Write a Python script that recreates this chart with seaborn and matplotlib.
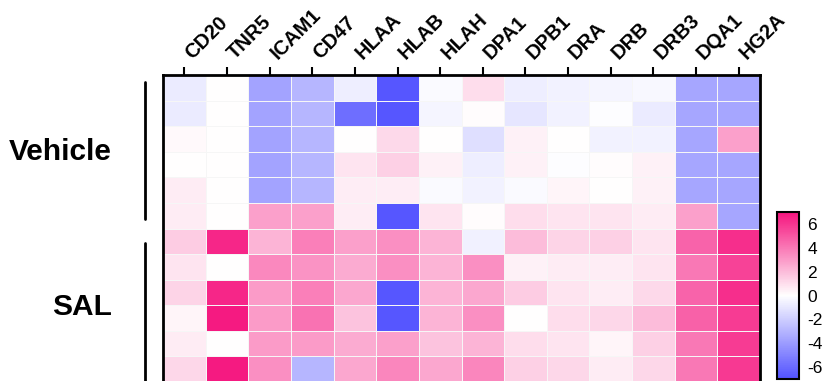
import numpy as np
import pandas as pd
import seaborn as sns
import matplotlib.pyplot as plt
import matplotlib.transforms as mtransforms
from matplotlib.colors import LinearSegmentedColormap
from matplotlib.lines import Line2D

# Data
genes = ["CD20", "TNR5", "ICAM1", "CD47", "HLAA", "HLAB", "HLAH",
         "DPA1", "DPB1", "DRA", "DRB", "DRB3", "DQA1", "HG2A"]
groups = ["Vehicle", "SAL"]

vehicle = [
    [-0.8, 0, -3.7, -2.9, -0.7, -6.8, -0.2, 1.0, -0.7, -0.5, -0.4, -0.3, -3.6, -3.6],
    [-0.8, 0, -3.7, -2.9, -5.8, -6.8, -0.4, 0.1, -1.0, -0.5, -0.1, -0.8, -3.6, -3.6],
    [0.2, 0, -3.7, -2.9, 0.0, 1.1, 0.0, -1.3, 0.4, 0.0, -0.5, -0.5, -3.6, 2.8],
    [0.0, 0, -3.7, -2.9, 0.8, 1.4, 0.4, -0.7, 0.4, -0.1, 0.1, 0.4, -3.6, -3.6],
    [0.6, 0, -3.7, -2.9, 0.5, 0.5, -0.2, -0.5, -0.2, 0.3, 0.0, 0.4, -3.6, -3.6],
    [0.6, 0, 2.8, 2.8, 0.5, -6.8, 0.8, 0.1, 1.0, 0.8, 0.8, 0.6, 2.8, -3.6],
]
sal = [
    [1.5, 6.4, 2.2, 3.8, 2.8, 3.3, 2.2, -0.6, 2.0, 1.3, 1.4, 0.8, 4.6, 6.2],
    [0.8, 0, 3.5, 3.2, 2.5, 3.3, 2.2, 3.3, 0.4, 0.6, 0.5, 0.8, 4.0, 5.6],
    [1.3, 6.4, 3.0, 3.8, 2.6, -6.8, 2.2, 2.6, 1.5, 0.8, 0.5, 1.1, 4.6, 6.2],
    [0.3, 6.8, 3.0, 4.2, 1.8, -6.8, 2.2, 3.3, 0.0, 1.0, 1.2, 2.0, 4.7, 5.8],
    [0.6, 0, 3.0, 3.0, 2.5, 2.8, 1.8, 2.2, 1.0, 0.8, 0.3, 1.4, 4.0, 5.8],
    [1.2, 6.8, 3.3, -2.9, 2.6, 3.6, 2.6, 3.6, 1.4, 1.2, 0.6, 1.2, 4.0, 5.9],
]
cbar_ticks = [-6, -4, -2, 0, 2, 4, 6]

sns.set_style("white")
plt.rcParams["font.family"] = ["Liberation Sans", "DejaVu Sans"]
plt.rcParams.update({"text.color": "black", "xtick.color": "black",
                     "ytick.color": "black", "axes.labelcolor": "black",
                     "axes.unicode_minus": False})

W, H = 827, 381
fig = plt.figure(figsize=(W / 100, H / 100), dpi=100)


def fx(px):
    return px / W


def fy(py):
    return 1 - py / H


data = pd.DataFrame(vehicle + sal, columns=genes)

cmap = LinearSegmentedColormap.from_list("bwp", ["#5252FF", "#FFFFFF", "#F5147E"])

# heatmap axes: left 163, right 760, top 75, bottom 382 (pixels)
ax = fig.add_axes([fx(163), fy(382), fx(760 - 163), (382 - 75) / H])
cax = fig.add_axes([fx(777), fy(379), fx(22), (379 - 212) / H])

sns.heatmap(data, ax=ax, cmap=cmap, vmin=-7, vmax=7, cbar_ax=cax,
            linewidths=0.4, linecolor="#f6f6f6",
            cbar_kws={"ticks": cbar_ticks})

ax.xaxis.tick_top()
ax.tick_params(axis="x", top=True, length=6, width=1.5, pad=5, color="black")
ax.set_xticklabels(genes, rotation=45, ha="left", va="baseline",
                   rotation_mode="anchor", fontsize=14.5, fontweight="bold")
shift = mtransforms.ScaledTranslation(8 / 100, 0, fig.dpi_scale_trans)
for lbl in ax.get_xticklabels():
    lbl.set_transform(lbl.get_transform() + shift)
ax.set_yticks([])
ax.set_ylabel("")
for sp in ax.spines.values():
    sp.set_visible(True)
    sp.set_linewidth(2)
    sp.set_color("black")

cax.tick_params(axis="y", left=True, right=True, direction="in", labelsize=12.5,
                length=3, width=1, pad=6, color="black")
cbar = ax.collections[0].colorbar
cbar.outline.set_visible(True)
cbar.outline.set_linewidth(1.5)
cbar.outline.set_edgecolor("black")

# group labels and brackets
fig.text(fx(112), fy(152), groups[0], ha="right", va="center",
         fontsize=21.5, fontweight="bold")
fig.text(fx(112), fy(307), groups[1], ha="right", va="center",
         fontsize=21.5, fontweight="bold")
fig.add_artist(Line2D([fx(145), fx(145)], [fy(82), fy(219)], color="black", lw=2))
fig.add_artist(Line2D([fx(145), fx(145)], [fy(243), fy(390)], color="black", lw=2))

fig.savefig("out.png", dpi=100)
